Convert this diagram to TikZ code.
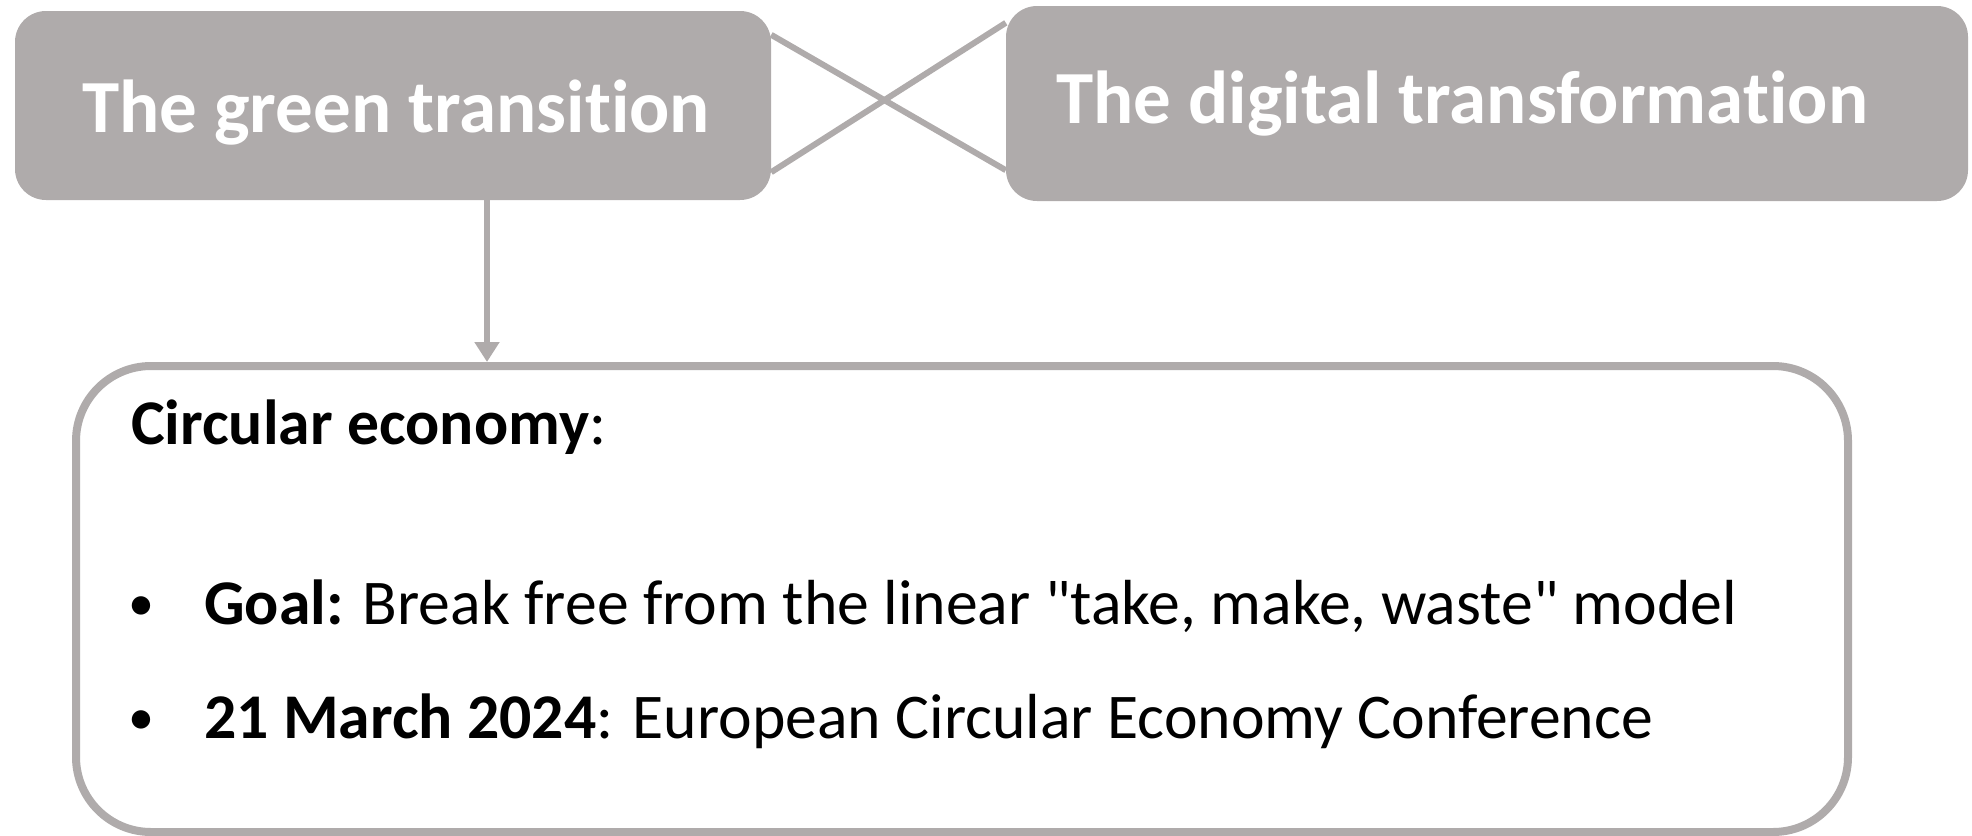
\documentclass[tikz,border=0pt]{standalone}
\usepackage{fontspec}
\setmainfont{Carlito}[Ligatures={TeXOff,NoCommon}]
\usetikzlibrary{arrows.meta}
\definecolor{boxgray}{HTML}{AFABAB}
\begin{document}
\begin{tikzpicture}[x=1pt,y=-1pt,
  topbox/.style={fill=boxgray, draw=none, rounded corners=31pt, inner sep=0pt},
  toptext/.style={text=white, font=\fontsize{75}{90}\selectfont\bfseries, inner sep=0pt},
  link/.style={draw=boxgray, line width=6pt},
  arr/.style={draw=boxgray, line width=6pt, -{Triangle[width=24pt,length=20pt]}},
  mainbox/.style={draw=boxgray, line width=8pt, fill=white, rounded corners=75pt, inner sep=0pt},
  bodytext/.style={text=black, font=\fontsize{63.7}{76}\selectfont, inner sep=0pt, anchor=base west},
  bullettext/.style={text=black, font=\fontsize{52}{60}\selectfont, inner sep=0pt, anchor=base}
]
\useasboundingbox (0,0) rectangle (1972,835);
% top boxes
\node[topbox, minimum width=756pt, minimum height=189pt] (gr) at (393,105.5) {};
\node[toptext, anchor=base west] (grt) at (82,132) {The green transition};
\node[topbox, minimum width=962pt, minimum height=195pt] (dig) at (1487,103.5) {};
\node[toptext, anchor=base west] (digt) at (1056,123) {The digital transformation};
% crossing links
\draw[link] ([yshift=-24pt]gr.north east) -- ([yshift=31pt]dig.south west);
\draw[link] ([yshift=28pt]gr.south east) -- ([yshift=-17pt]dig.north west);
% main box
\node[mainbox, minimum width=1772pt, minimum height=466pt] (circ) at (962,599) {};
\draw[arr] ([xshift=94pt]gr.south) -- ([xshift=94pt]gr.south |- circ.north);
% texts
\node[bodytext] (t1) at (131,444) {\textbf{Circular economy}:};
\node[bullettext] (b1) at (141,620) {•};
\node[bodytext] (t2) at (204,624) {\textbf{Goal:} Break free from the linear "take, make, waste" model};
\node[bullettext] (b2) at (141,734) {•};
\node[bodytext] (t3) at (204,738) {\textbf{21 March 2024}: European Circular Economy Conference};
\end{tikzpicture}
\end{document}
